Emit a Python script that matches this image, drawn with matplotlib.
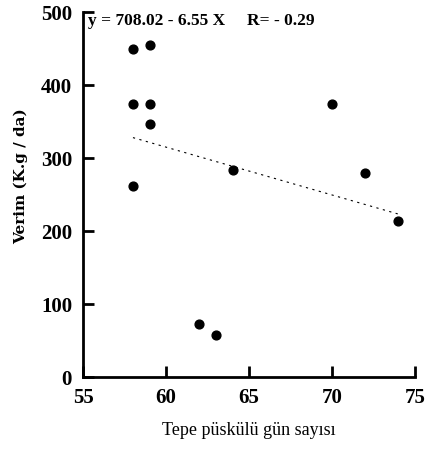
import matplotlib
matplotlib.use("Agg")
import matplotlib.pyplot as plt
import numpy as np

plt.rcParams["font.family"] = ["Liberation Serif", "DejaVu Serif"]

# tepe püskülü gün sayısı vs verim
days = [58, 59, 58, 59, 59, 58, 64, 70, 72, 74, 62, 63]
yield_kg = [450, 455, 374, 374, 347, 262, 284, 374, 279, 214, 73, 57]

a, b = 708.02, -6.55
line_x = [58, 74]

fig = plt.figure(figsize=(4.31, 4.5), dpi=100)
ax = fig.add_axes([0.193, 0.162, 0.77, 0.811])

ax.scatter(days, yield_kg, s=40, color="black", zorder=3)
lx = np.array(line_x)
ax.plot(lx, a + b * lx, color="black", linestyle=(0, (2, 4)), linewidth=0.8)

ax.set_xlim(55, 75)
ax.set_ylim(0, 500)
ax.set_xticks([55, 60, 65, 70, 75])
ax.set_yticks([0, 100, 200, 300, 400, 500])
ax.tick_params(direction="in", length=8, width=2, labelsize=15, pad=8)
for lbl in ax.get_xticklabels() + ax.get_yticklabels():
    lbl.set_fontweight("bold")
for side in ["top", "right"]:
    ax.spines[side].set_visible(False)
for side in ["left", "bottom"]:
    ax.spines[side].set_linewidth(2)

ax.text(55.3, 482, "y = 708.02 - 6.55 X     R= - 0.29", fontsize=12.5, fontweight="bold")
ax.set_xlabel("Tepe püskülü gün sayısı", fontsize=13, labelpad=10)
ax.set_ylabel("Verim (K.g / da)", fontsize=11, fontweight="bold",
              family="DejaVu Serif", labelpad=10)
ax.yaxis.set_label_coords(-0.165, 0.55)

fig.savefig("out.png", dpi=100)
